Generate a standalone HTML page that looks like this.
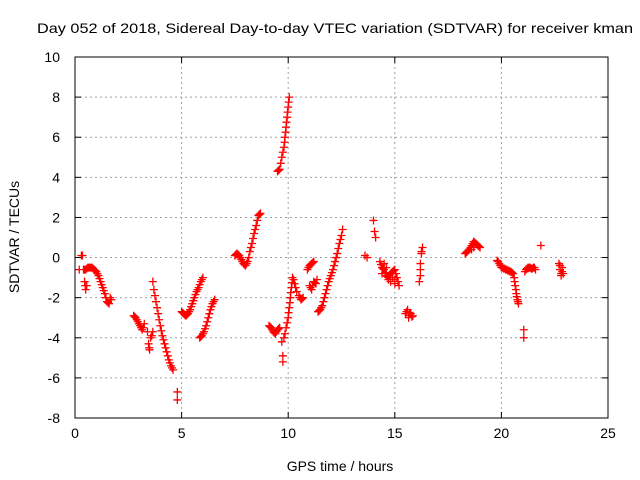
<!DOCTYPE html>
<html><head><meta charset="utf-8"><style>
html,body{margin:0;padding:0;background:#fff;}
svg{display:block;font-family:"Liberation Sans",sans-serif;}
</style></head><body>
<svg id="chart" width="640" height="480" viewBox="0 0 640 480">
<rect width="640" height="480" fill="#fff"/>
<text x="37" y="33" font-size="14" textLength="596" lengthAdjust="spacingAndGlyphs" fill="#000">Day 052 of 2018, Sidereal Day-to-day VTEC variation (SDTVAR) for receiver kman</text>
<g id="grid"></g>
<g id="ticks"></g>
<g id="points"></g>
<rect x="75" y="57" width="533" height="361" fill="none" stroke="#000" stroke-width="1"/>
<text x="340" y="471" font-size="14" text-anchor="middle">GPS time / hours</text>
<text x="19" y="237" font-size="14" text-anchor="middle" transform="rotate(-90 19 237)">SDTVAR / TECUs</text>
</svg>
<script>
var xTicks=[0,5,10,15,20,25];
var yTicks=[-8,-6,-4,-2,0,2,4,6,8,10];
var hours=[0.2,0.3,0.35,0.4,0.5,0.45,0.5,0.55,0.6,0.7,0.8,0.9,1.0,1.1,1.2,1.3,1.4,1.5,1.6,1.65,1.7,
2.75,2.85,2.95,3.05,3.15,3.25,3.4,3.45,3.5,3.55,3.6,3.65,
3.65,3.7,3.8,3.9,4.0,4.1,4.2,4.3,4.4,4.5,4.6,4.8,4.8,
5.0,5.1,5.2,5.3,5.4,5.5,5.6,5.7,5.8,5.9,6.0,
5.85,5.95,6.05,6.15,6.25,6.35,6.45,6.55,
7.5,7.6,7.7,7.8,7.9,8.0,8.1,8.2,8.3,8.4,8.5,8.6,8.7,
9.1,9.2,9.3,9.4,9.5,9.6,9.7,9.75,9.75,9.8,9.9,10.0,10.05,10.1,10.15,10.2,10.25,10.35,10.5,10.6,10.7,
9.5,9.6,9.7,9.8,9.85,9.9,9.95,10.0,10.05,
10.9,11.0,11.1,11.2,11.0,11.1,11.2,11.3,11.35,
11.4,11.5,11.6,11.7,11.8,11.9,12.0,12.1,12.2,12.3,12.4,12.5,12.55,
13.6,13.7,14.0,14.05,14.1,14.3,14.4,14.5,14.6,14.7,14.8,14.9,15.0,15.1,15.2,14.5,14.8,15.0,
15.55,15.65,15.75,15.85,16.15,16.2,16.25,16.3,16.2,
18.3,18.4,18.5,18.6,18.7,18.8,18.9,19.0,
19.8,19.9,20.0,20.1,20.2,20.3,20.4,20.5,20.6,20.65,20.7,20.75,20.8,21.05,21.05,
21.1,21.2,21.3,21.4,21.5,21.6,21.85,22.7,22.75,22.8,22.85,22.9,
0.65,0.75,0.85,0.95,1.05,1.15,1.25,1.35,1.45,1.55,0.45,0.55,0.48,
2.8,2.9,3.0,3.1,3.2,3.48,
3.75,3.85,3.95,4.05,4.15,4.25,4.35,4.45,4.55,
5.05,5.15,5.25,5.35,5.45,5.55,5.65,5.75,5.85,5.95,
5.9,6.0,6.1,6.2,6.3,6.4,6.5,
7.55,7.65,7.75,7.85,7.95,8.05,8.15,8.25,8.35,8.45,8.55,8.65,
9.15,9.25,9.35,9.45,9.55,9.85,9.95,10.02,10.08,10.12,10.18,10.3,10.4,10.55,10.65,
9.55,9.65,9.75,9.83,9.88,9.92,9.97,10.02,
11.45,11.55,11.65,11.75,11.85,11.95,12.05,12.15,12.25,12.35,12.45,
10.95,11.05,11.15,11.05,11.15,11.25,
14.35,14.45,14.55,14.65,14.75,14.85,14.95,15.05,15.15,14.4,14.6,14.7,14.9,15.0,
15.6,15.7,15.8,15.5,15.65,16.25,16.2,
18.35,18.45,18.55,18.65,18.75,18.85,18.95,18.6,18.7,
19.85,19.95,20.05,20.15,20.25,20.35,20.45,20.55,20.62,20.68,20.72,20.78,
21.15,21.25,21.35,21.45,21.55,22.75,22.8,22.85];
var values=[-0.6,0.1,0.1,-0.6,-0.6,-1.2,-1.6,-1.4,-0.5,-0.5,-0.5,-0.6,-0.7,-0.9,-1.2,-1.5,-1.8,-2.2,-2.3,-2.0,-2.1,
-2.9,-3.0,-3.2,-3.4,-3.6,-3.3,-3.7,-4.3,-4.6,-4.0,-3.9,-3.7,
-1.2,-1.6,-2.2,-2.8,-3.4,-3.9,-4.3,-4.7,-5.1,-5.4,-5.6,-6.7,-7.1,
-2.7,-2.8,-2.9,-2.8,-2.6,-2.3,-2.0,-1.7,-1.5,-1.2,-1.0,
-4.0,-3.9,-3.7,-3.4,-3.0,-2.6,-2.3,-2.1,
0.1,0.2,0.1,-0.1,-0.3,-0.4,-0.2,0.3,0.7,1.2,1.6,2.1,2.2,
-3.4,-3.5,-3.7,-3.8,-3.6,-3.5,-4.2,-5.2,-4.9,-4.0,-3.5,-3.0,-2.5,-2.0,-1.5,-1.0,-1.1,-1.5,-1.9,-2.1,-2.0,
4.3,4.4,5.0,5.5,6.0,6.5,7.0,7.5,8.0,
-0.6,-0.4,-0.3,-0.2,-1.4,-1.6,-1.2,-1.3,-1.1,
-2.7,-2.6,-2.4,-2.0,-1.6,-1.2,-0.9,-0.6,-0.2,0.2,0.7,1.1,1.4,
0.1,0.0,1.85,1.3,1.0,-0.2,-0.5,-0.6,-0.9,-1.0,-0.8,-0.7,-0.6,-1.0,-1.4,-0.3,-1.2,-1.1,
-2.7,-2.9,-2.8,-2.9,-1.2,-0.3,0.2,0.5,-0.6,
0.2,0.3,0.4,0.6,0.8,0.7,0.6,0.5,
-0.15,-0.3,-0.5,-0.55,-0.6,-0.65,-0.7,-0.75,-1.0,-1.4,-1.8,-2.1,-2.3,-4.0,-3.6,
-0.7,-0.55,-0.5,-0.55,-0.5,-0.6,0.6,-0.3,-0.6,-0.9,-0.7,-0.8,
-0.5,-0.5,-0.55,-0.65,-0.8,-1.05,-1.35,-1.65,-2.0,-2.25,-0.6,-0.55,-1.4,
-2.95,-3.1,-3.3,-3.5,-3.5,-4.5,
-1.9,-2.5,-3.1,-3.65,-4.1,-4.5,-4.9,-5.25,-5.5,
-2.75,-2.85,-2.85,-2.7,-2.45,-2.15,-1.85,-1.6,-1.35,-1.1,
-3.95,-3.8,-3.55,-3.2,-2.8,-2.45,-2.2,
0.15,0.15,0.0,-0.2,-0.35,-0.3,0.0,0.5,0.95,1.4,1.85,2.15,
-3.45,-3.6,-3.75,-3.7,-3.55,-3.8,-3.25,-2.75,-2.25,-1.75,-1.25,-1.3,-1.7,-2.0,-2.05,
4.35,4.7,5.25,5.75,6.25,6.75,7.25,7.75,
-2.65,-2.5,-2.2,-1.8,-1.4,-1.05,-0.75,-0.4,0.0,0.45,0.9,
-0.5,-0.35,-0.25,-1.5,-1.4,-1.25,
-0.35,-0.55,-0.75,-0.95,-0.9,-0.75,-0.65,-0.8,-1.2,-0.8,-0.5,-1.1,-1.0,-1.3,
-2.6,-2.75,-2.95,-2.8,-3.0,0.3,-0.9,
0.25,0.35,0.5,0.7,0.75,0.65,0.55,0.4,0.5,
-0.2,-0.4,-0.5,-0.55,-0.6,-0.65,-0.7,-0.8,-1.2,-1.6,-1.95,-2.2,
-0.6,-0.5,-0.5,-0.55,-0.5,-0.4,-0.8,-0.5];
var L=75,R=608,T=57,B=418;
function X(h){return L+(h-0)*(R-L)/25;}
function Y(v){return B-(v+8)*(B-T)/18;}
var NS='http://www.w3.org/2000/svg';
var grid=document.getElementById('grid'),ticks=document.getElementById('ticks'),pts=document.getElementById('points');
function mk(tag,attrs,parent){var e=document.createElementNS(NS,tag);for(var k in attrs)e.setAttribute(k,attrs[k]);parent.appendChild(e);return e;}
xTicks.forEach(function(t){
  var x=X(t);
  if(t>0&&t<25){var g=mk('line',{x1:x,y1:T,x2:x,y2:B,stroke:'#a0a0a0','stroke-dasharray':'2,3'},grid);
  
  }
  mk('line',{x1:x,y1:B,x2:x,y2:B-6,stroke:'#000'},ticks);
  mk('line',{x1:x,y1:T,x2:x,y2:T+6,stroke:'#000'},ticks);
  var tx=mk('text',{x:x,y:B+20,'font-size':14,'text-anchor':'middle'},ticks);
  
  
  tx.textContent=t;
});
yTicks.forEach(function(t){
  var y=Y(t);
  if(t>-8&&t<10){var g=mk('line',{x1:L,y1:y,x2:R,y2:y,stroke:'#a0a0a0','stroke-dasharray':'2,3'},grid);
  
  }
  mk('line',{x1:L,y1:y,x2:L+6,y2:y,stroke:'#000'},ticks);
  mk('line',{x1:R,y1:y,x2:R-6,y2:y,stroke:'#000'},ticks);
  var tx=mk('text',{x:L-15,y:y+5,'font-size':14,'text-anchor':'end'},ticks);
  
  
  tx.textContent=t;
});
var d='';
for(var i=0;i<hours.length;i++){
  var x=X(hours[i]),y=Y(values[i]);
  d+='M'+(x-4)+' '+y+'h8M'+x+' '+(y-4)+'v8';
}
var p=mk('path',{d:d,stroke:'#ff0000','stroke-width':1.3,fill:'none'},pts);


</script>
</body></html>
